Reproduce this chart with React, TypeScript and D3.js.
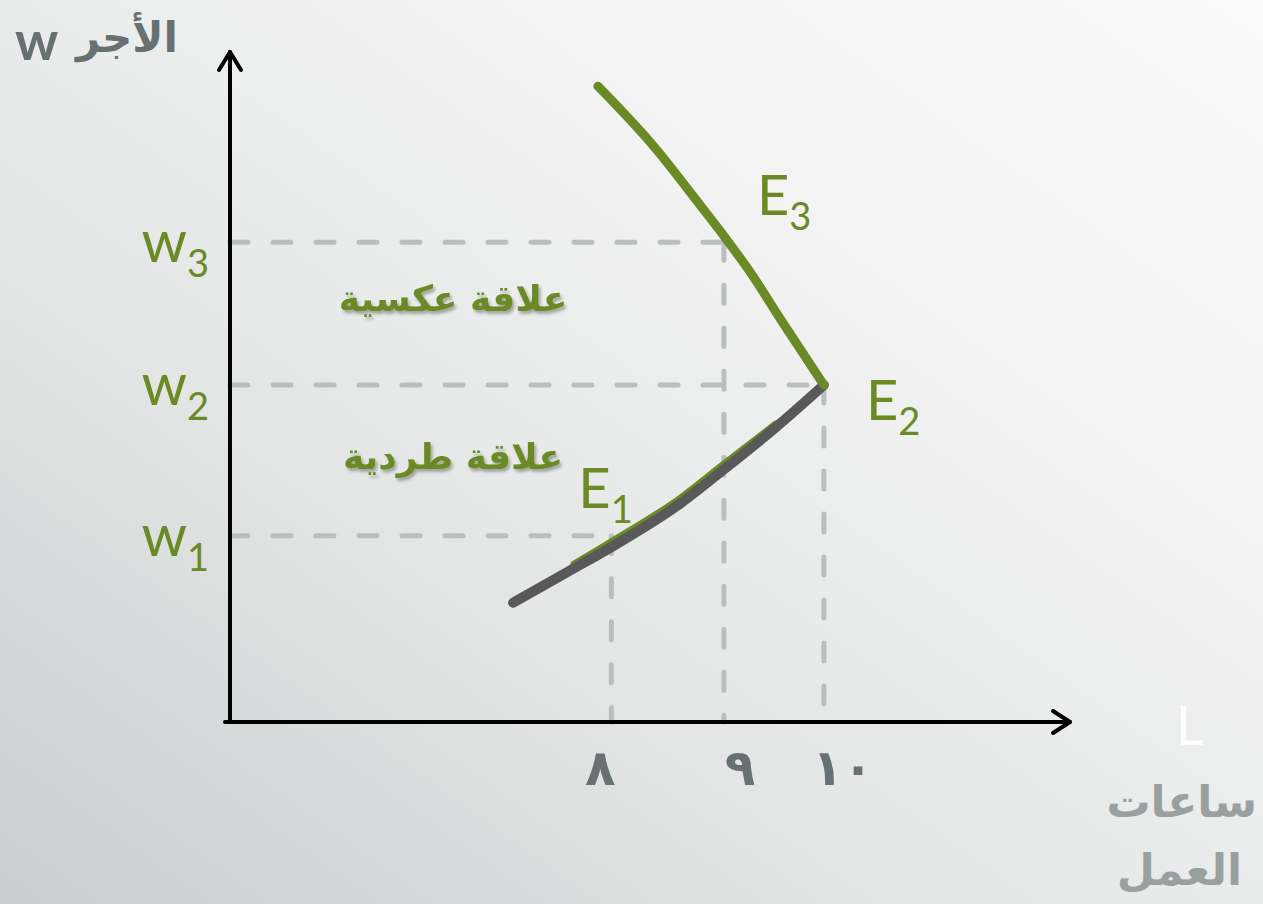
import React, { useEffect, useRef } from 'react';
import * as d3 from 'd3';

// hours of work (L) – tick positions on the horizontal axis, in chart units
const hourTicks = [45.4, 58.8, 70.7];
const hourLabels = ['٨', '٩', '١٠'];
// wage levels on the vertical axis, in chart units
const wageTicks = [27.8, 50.3, 71.6];
const wageLabels = ['1', '2', '3'];

// backward bending labour supply curve
const upperCurve: [number, number][] = [
    [43.8, 94.9], [50.6, 85.7], [56.0, 77.1], [59.0, 72.2], [61.9, 67.2], [65.6, 60.0], [70.7, 50.3]
];
const lowerCurve: [number, number][] = [
    [33.7, 17.8], [40.2, 22.4], [45.4, 26.1], [53.6, 32.6], [58.8, 37.7], [64.9, 43.9], [70.7, 50.3]
];
const lowerGreen: [number, number][] = [
    [41.0, 23.5], [45.4, 26.8], [53.6, 33.3], [58.8, 38.4], [65.0, 44.4]
];

// which wage line reaches which hour line
const dashPairs = [[0, 0], [2, 1], [1, 2]];
const pointNames = ['1', '2', '3'];

const GREEN = '#6a8a25';
const GREY_TEXT = '#687172';
const DASH = '#b9bfbf';

function App() {
    const svgRef = useRef<SVGSVGElement>(null);
    const width = 1263;
    const height = 904;

    useEffect(() => {
        const svg = d3.select(svgRef.current);
        svg.selectAll('*').remove();

        const x = d3.scaleLinear().domain([0, 100]).range([230, 1070]);
        const y = d3.scaleLinear().domain([0, 100]).range([722, 52]);

        const defs = svg.append('defs');
        const grad = defs.append('linearGradient')
            .attr('id', 'bg')
            .attr('x1', 0).attr('y1', 1).attr('x2', 1).attr('y2', 0);
        [['0', '#c9cdcd'], ['0.35', '#e3e5e5'], ['0.7', '#f3f3f3'], ['1', '#fbfbfb']]
            .forEach(([o, c]) => grad.append('stop').attr('offset', o).attr('stop-color', c));
        const shadow = defs.append('filter').attr('id', 'shadow')
            .attr('x', '-10%').attr('y', '-20%').attr('width', '130%').attr('height', '150%');
        shadow.append('feDropShadow')
            .attr('dx', 2).attr('dy', 3).attr('stdDeviation', 1.5)
            .attr('flood-color', '#000').attr('flood-opacity', 0.3);

        svg.append('rect').attr('width', width).attr('height', height).attr('fill', 'url(#bg)');

        // dashed guide lines
        const guides = svg.append('g')
            .attr('stroke', DASH)
            .attr('stroke-width', 5)
            .attr('stroke-linecap', 'round')
            .attr('stroke-dasharray', '18 25');
        dashPairs.forEach(([wi, hi]) => {
            guides.append('line')
                .attr('x1', x(0)).attr('y1', y(wageTicks[wi]))
                .attr('x2', x(hourTicks[hi])).attr('y2', y(wageTicks[wi]));
            guides.append('line')
                .attr('x1', x(hourTicks[hi])).attr('y1', y(wageTicks[wi]))
                .attr('x2', x(hourTicks[hi])).attr('y2', y(0));
        });

        // axes with open arrow heads
        const axes = svg.append('g')
            .attr('stroke', '#000')
            .attr('stroke-width', 4)
            .attr('fill', 'none')
            .attr('stroke-linecap', 'round')
            .attr('stroke-linejoin', 'round');
        axes.append('path').attr('d', `M${x(-0.6)},${y(0)}H${x(100)}`);
        axes.append('path').attr('d', `M${x(0)},${y(0)}V${y(100)}`);
        axes.append('path').attr('d', `M${x(100) - 17},${y(0) - 11}L${x(100)},${y(0)}L${x(100) - 17},${y(0) + 11}`);
        axes.append('path').attr('d', `M${x(0) - 11},${y(100) + 18}L${x(0)},${y(100)}L${x(0) + 11},${y(100) + 18}`);

        // supply curve
        const line = d3.line<[number, number]>()
            .x(d => x(d[0]))
            .y(d => y(d[1]))
            .curve(d3.curveMonotoneX);
        svg.append('path').attr('d', line(lowerGreen))
            .attr('fill', 'none').attr('stroke', GREEN).attr('stroke-width', 8).attr('stroke-linecap', 'round');
        svg.append('path').attr('d', line(lowerCurve))
            .attr('fill', 'none').attr('stroke', '#595959').attr('stroke-width', 10).attr('stroke-linecap', 'round');
        svg.append('path').attr('d', line(upperCurve))
            .attr('fill', 'none').attr('stroke', GREEN).attr('stroke-width', 9)
            .attr('stroke-linecap', 'round').attr('stroke-linejoin', 'round');

        // wage labels w1..w3
        wageTicks.forEach((w, i) => {
            const t = svg.append('text')
                .attr('x', 209).attr('y', y(w) + 20)
                .attr('text-anchor', 'end')
                .attr('fill', GREEN)
                .style('font-family', 'Lato, sans-serif')
                .style('font-size', '58px');
            t.append('tspan').text('w');
            t.append('tspan').attr('dy', 15).style('font-size', '38px').text(wageLabels[i]);
        });

        // hour tick labels
        svg.append('g').selectAll('text')
            .data(hourTicks)
            .join('text')
            .attr('x', (d, i) => x(d) + [-11, 16, 19][i])
            .attr('y', 785)
            .attr('text-anchor', 'middle')
            .attr('fill', GREY_TEXT)
            .style('font-family', 'DejaVu Sans, sans-serif')
            .style('font-weight', 'bold')
            .style('font-size', '50px')
            .text((d, i) => hourLabels[i]);

        // equilibrium labels E1..E3
        const ePoints: [number, number][] = [
            [hourTicks[0], wageTicks[0]], [hourTicks[2], wageTicks[1]], [hourTicks[1], wageTicks[2]]
        ];
        const eOffsets = [[-33, -28], [42, 35], [33, -27]];
        ePoints.forEach((p, i) => {
            const t = svg.append('text')
                .attr('x', x(p[0]) + eOffsets[i][0])
                .attr('y', y(p[1]) + eOffsets[i][1])
                .attr('fill', GREEN)
                .style('font-family', 'Lato, sans-serif')
                .style('font-size', '56px');
            t.append('tspan').text('E');
            t.append('tspan').attr('dy', 15).style('font-size', '38px').text(pointNames[i]);
        });

        // relationship labels
        const rel = svg.append('g')
            .attr('fill', GREEN)
            .attr('filter', 'url(#shadow)')
            .style('font-family', 'DejaVu Sans, sans-serif')
            .style('font-weight', 'bold')
            .style('font-size', '36px')
            .attr('text-anchor', 'middle');
        rel.append('text').attr('x', 453).attr('y', 311).text('علاقة عكسية');
        rel.append('text').attr('x', 453).attr('y', 469).text('علاقة طردية');

        // axis titles
        svg.append('text').attr('x', 15).attr('y', 60)
            .attr('fill', GREY_TEXT)
            .style('font-family', 'Lato, sans-serif').style('font-weight', 'bold').style('font-size', '54px')
            .text('w');
        svg.append('text').attr('x', 178).attr('y', 52)
            .attr('text-anchor', 'end')
            .attr('fill', GREY_TEXT)
            .style('font-family', 'DejaVu Sans, sans-serif').style('font-weight', 'bold').style('font-size', '42px')
            .text('الأجر');

        svg.append('text').attr('x', 1176).attr('y', 745)
            .attr('fill', '#ffffff')
            .style('font-family', 'Lato, sans-serif').style('font-size', '54px')
            .text('L');
        const hoursTitle = svg.append('g')
            .attr('fill', '#9aa0a0')
            .attr('text-anchor', 'end')
            .style('font-family', 'DejaVu Sans, sans-serif').style('font-weight', 'bold').style('font-size', '44px');
        hoursTitle.append('text').attr('x', 1257).attr('y', 817).text('ساعات');
        hoursTitle.append('text').attr('x', 1242).attr('y', 885).text('العمل');
    }, []);

    return (
        <svg ref={svgRef} width={width} height={height}
             style={{position: 'absolute', left: 0, top: 0, display: 'block'}}/>
    );
}

export default App;
